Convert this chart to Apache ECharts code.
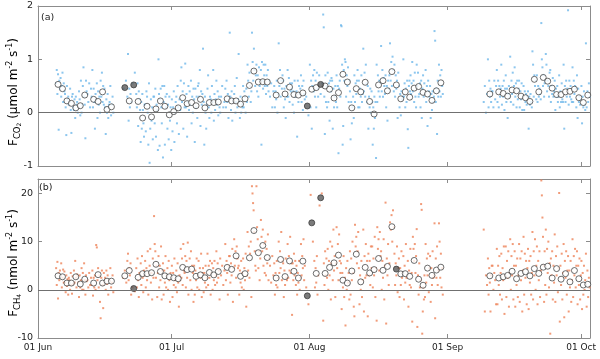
<html>
<head>
<meta charset="utf-8">
<title>CO2 and CH4 flux</title>
<script src="https://cdn.jsdelivr.net/npm/echarts@6/dist/echarts.min.js"></script>
<style>
  html, body { margin: 0; padding: 0; background: #fff; }
  #chart { width: 600px; height: 359px; }
</style>
</head>
<body>
<div id="chart"></div>
<script>
// x axis is days since 01 Jun
var monthTicks = [0, 30, 61, 92, 122];
var monthLabels = ['01 Jun', '01 Jul', '01 Aug', '01 Sep', '01 Oct'];
var co2Ticks = [-1, 0, 1, 2];
var ch4Ticks = [-10, 0, 10, 20];

// daily means (open circles)
var co2Days = [4,5,6,7,8,9,10,12,13,14,15,16,20,22,23,24,25,26,27,28,29,30,31,32,33,34,35,36,37,38,39,40,
  42,43,44,45,46,47,48,49,50,51,53,54,55,56,57,58,59,61,62,64,65,66,67,68,69,70,71,72,73,74,75,76,77,78,79,80,
  81,82,83,84,85,86,87,88,89,90,101,103,104,105,106,107,108,109,110,111,112,113,114,115,116,117,118,119,120,121,122,123];
var co2Daily = [0.53,0.45,0.22,0.175,0.09,0.13,0.33,0.25,0.21,0.39,0.06,0.11,0.22,0.21,-0.1,0.12,-0.08,0.07,0.22,0.12,-0.04,0.02,0.09,0.28,0.17,0.19,0.13,0.25,0.09,0.19,0.19,0.2,
  0.26,0.22,0.22,0.16,0.26,0.51,0.78,0.575,0.58,0.575,0.33,0.6,0.35,0.48,0.34,0.33,0.37,0.44,0.47,0.5,0.44,0.275,0.375,0.72,0.575,0.09,0.45,0.39,0.57,0.21,-0.025,0.52,0.6,0.41,0.77,0.52,
  0.26,0.39,0.29,0.46,0.49,0.38,0.35,0.23,0.41,0.56,0.35,0.39,0.36,0.31,0.425,0.41,0.31,0.28,0.21,0.625,0.39,0.66,0.59,0.46,0.34,0.34,0.39,0.4,0.44,0.28,0.19,0.33];
// daily means from gap-filled days (filled circles)
var co2FillDays = [19, 21, 60, 63];
var co2Fill = [0.47, 0.52, 0.125, 0.53];

var ch4Days = [4,5,6,7,8,9,10,12,13,14,15,16,19,20,22,23,24,25,26,27,28,29,30,31,32,33,34,35,36,37,38,39,40,
  42,43,44,45,46,47,48,49,50,51,53,54,55,56,57,58,59,62,64,65,66,67,68,69,70,71,72,73,74,75,76,77,78,79,
  81,82,83,84,85,86,87,88,89,90,101,103,104,105,106,107,108,109,110,111,112,113,114,115,116,117,118,119,120,121,122,123];
var ch4Daily = [2.9,2.7,1.4,1.4,2.7,1.2,2.2,1.4,3.15,1.4,1.8,1.8,2.9,4.0,2.6,3.35,3.35,3.55,5.3,3.8,2.9,2.7,2.5,2.3,4.65,4.2,4.3,2.8,3.1,2.5,3.6,3.1,3.8,
  4.65,4.25,7.05,2.8,3.35,6.65,12.3,7.7,9.2,6.7,2.45,6.3,2.75,6.0,3.85,2.45,5.95,3.4,3.4,4.65,5.6,7.2,2.0,1.4,3.9,7.4,1.65,4.65,3.5,4.2,6.5,4.05,4.85,13.1,
  3.3,3.35,2.8,6.1,2.2,0.95,4.5,3.0,4.1,4.7,2.9,2.45,2.7,3.0,3.85,2.3,3.4,3.75,2.9,4.4,3.4,4.7,4.9,2.45,4.4,2.2,3.35,1.65,4.0,2.3,1.0,1.15];
var ch4FillDays = [21, 60, 61, 63, 80];
var ch4Fill = [0.27, -1.25, 13.9, 19.1, 4.3];

// half-hourly fluxes, one list per day starting at day 4
var dotStart = 4;
var co2Half = [
  [0.55,0.8,0.35,0.72,-0.32,0.6,0.45],[0.65,0.3,0.5,0.75,0.2,0.55,0.4],[0.35,0.1,-0.42,0.5,0.25,0.3,0.15],
  [0.2,0.45,0.05,-0.38,0.3,0.35,0.1],[0.05,0.25,-0.1,0.3,0.15,0.2,0.0],[0.1,0.4,0.25,-0.05,0.6,0.0,0.15],
  [0.5,0.85,0.3,0.15,-0.48,0.6,0.4],[0.35,0.2,0.55,0.1,0.45],[0.3,0.8,0.1,0.45,0.2,-0.3,0.35],
  [0.25,0.55,-0.1,0.4,0.15,0.3,0.0],[0.6,0.3,0.75,0.2,0.5,0.15,0.45],[0.1,-0.4,0.25,0.0,0.35,-0.1,0.15],
  [0.2,0.5,-0.05,0.15,0.3,0.0],[],[],
  [0.45,0.6],[0.3,1.1,-0.15,0.45,0.1,0.35,0.2],[0.55,0.75],[0.35,0.1,0.55,-0.25,0.4,0.25,0.05],
  [-0.55,0.2,-0.3,0.35,0.05,-0.2,-0.45,0.15],[0.15,-0.35,0.4,0.3,0.0,-0.6,0.55],[-0.94,-0.3,0.25,-0.15,0.1,-0.5,0.3],
  [0.3,-0.2,0.45,-0.45,0.15,0.05,-0.7],[1.0,0.35,-0.62,0.25,0.45,0.1,-0.2,0.5],[-0.84,0.2,0.5,-0.6,0.3,0.1,0.35],
  [-0.3,0.15,-0.5,0.3,-0.15,0.1,-0.7],[0.25,-0.35,0.1,0.4,-0.55,0.0,0.2],[0.3,-0.2,0.5,0.1,-0.4,0.25,0.05],
  [0.6,0.85,0.2,0.4,-0.3,0.55,0.1],[0.92,0.1,0.35,-0.45,0.2,0.5,0.05],[0.4,0.15,0.6,-0.2,0.3,0.0,0.45],
  [0.25,-0.55,0.45,0.1,0.3,-0.1,0.5],[0.55,0.3,0.8,-0.25,0.4,0.15,0.35],[1.2,0.2,-0.6,0.3,0.0,-0.3,0.15],
  [0.45,0.7,0.1,-0.1,0.3,0.25,0.0],[0.5,0.2,0.8,-0.15,0.35,0.05,0.25],[0.6,0.15,0.4,-0.05,0.3,0.1,0.0],
  [0.3,0.5,0.1,0.2],[0.45,0.1,0.6,0.2,0.35,-0.1,0.3],[1.5,0.3,0.05,0.4,-0.15,0.25,0.2],
  [0.35,0.5,0.0,0.2,0.65,0.1,0.25],[1.1,0.2,-0.1,0.3,0.0,0.15,0.1],[0.5,0.1,0.4,0.3,0.0,0.45,0.2],
  [0.9,0.6,0.3,0.75,0.5,0.2,0.4],[1.5,0.95,0.6,1.2,0.8,0.5,0.7],[0.9,0.4,0.7,0.3,0.85,0.5,0.6],
  [0.8,-0.6,0.95,0.6,0.45,0.9,0.7,0.5],[0.9,0.35,0.7,0.5,0.8,0.4,0.6],[0.3,0.55,0.1,0.4],
  [0.5,0.1,0.4,0.25,0.6,0.0,0.35],[1.3,0.5,0.8,0.3,0.6,0.45,0.7],[0.6,0.1,0.45,0.25,-0.1,0.5,0.3],
  [0.8,0.3,0.65,0.2,0.55,0.4,0.45],[0.55,0.15,0.4,0.0,0.6,0.3,0.35],[0.4,-0.45,0.6,0.2,0.5,0.35,0.45],
  [0.7,0.2,0.5,0.05,0.6,0.35,0.25],[0.3,-0.05],[0.9,0.1,0.6,-0.3,0.5,0.7,0.4],
  [0.8,0.3,0.6,0.1,0.75,0.45,0.3],[0.7,0.35,0.55],[1.84,1.6,0.3,-0.4,0.7,0.2,0.5,0.1],
  [0.75,0.2,0.55,-0.15,0.6,0.4,0.65],[0.6,-0.3,0.45,0.1,0.3,0.5,0.2],[0.7,0.1,0.5,-0.76,0.45,0.6,0.3],
  [1.64,1.62,0.9,-0.6,-0.25,0.8,0.6,1.0],[0.95,0.3,0.7,0.5,0.85,0.2,0.6],[0.4,-0.5,0.2,-0.2,0.1,0.3,-0.1],
  [0.7,0.2,0.55,0.35,0.6,0.8,0.1],[0.6,0.1,0.45,0.3,0.7,0.2,0.35],[1.2,0.4,0.75,0.3,0.9,0.55,0.2],
  [0.5,-0.3,0.3,0.1,0.45,0.0,0.4],[0.2,-0.6,0.1,-0.3,0.3,-0.1,0.2,-0.85],[0.9,0.2,0.7,0.4,0.6,0.3,0.55],
  [1.25,0.4,0.8,0.3,0.65,0.5,0.35],[0.7,0.1,0.5,-0.15,0.6,0.45,0.7],[1.3,0.6,0.95,0.5,1.05,0.8,0.4],
  [0.9,0.3,0.7,0.45,0.6,-0.1,0.75],[0.5,0.1,0.35,-0.05,0.4,0.25,0.3],[1.0,0.3,0.55,0.1,0.45,0.2,0.6],
  [-0.31,-0.66,0.5,0.6,0.4,0.7,0.35,0.55],[0.95,0.4,0.6,0.2,0.75,0.3,0.1],[0.9,0.5,0.75,0.3,0.35,0.55,0.1],
  [0.6,-0.1,0.45,0.7,0.3,0.55,0.35],[0.8,0.2,0.5,-0.25,0.6,0.4,0.3],[0.5,-0.1,0.35,0.05,0.4,0.2,0.3],
  [1.53,1.35,0.2,0.45,-0.4,0.6,0.3],[0.9,0.4,0.7,0.3,0.8,0.5,0.35],
  [],[],[],[],[],[],[],[],[],
  [0.2,0.5,0.0,0.35],[1.0,0.1,0.6,0.3,0.45,0.2,0.4],[0.4,0.1,0.6,0.25,0.5],
  [0.8,0.2,0.6,0.1,0.5,0.3,0.45],[0.9,0.15,0.5,0.3,0.6,0.05,0.45],[0.7,0.2,0.45,-0.1,0.35,0.5,0.3],
  [1.05,0.2,0.6,0.35,0.75,0.15,0.5],[0.85,0.3,0.55,0.1,0.6,0.25,0.45],[0.6,0.1,0.4,0.25,0.55,0.05,0.3],
  [0.5,0.05,0.4,0.2,0.35,0.15,0.3],[0.4,-0.3,0.3,0.15,0.35,0.2,0.1],[1.15,0.9,0.3,0.7,0.5,0.6,0.25],
  [0.7,0.2,0.5,0.3,0.45,0.35,0.25],[1.68,1.0,0.85,0.5,0.7,0.3,0.55,0.6],[1.1,0.9,0.4,0.6,0.5,0.3,0.75],
  [0.8,0.2,0.5,0.35,0.65,0.3,0.4],[0.6,0.05,0.45,0.3,0.5,0.2,0.3],[0.7,0.1,0.4,0.2,0.55,0.25,0.2],
  [0.9,-0.3,0.5,0.2,0.6,0.3,0.45],[1.92,0.15,0.6,0.3,0.5,0.25,0.2],[0.85,0.2,0.6,0.35,0.5,0.45,0.1],
  [0.7,-0.1,0.45,0.2,0.3,0.15,0.25],[0.5,-0.2,0.3,0.1,0.4,0.15,0.05],[1.3,0.1,0.4,0.2,0.55,0.3]
];
var ch4Half = [
  [4.5,1.0,5.8,-1.8,3.5,2.0,4.0],[3.0,5.5,0.5,2.5,4.2,1.5,3.8],[1.5,-0.5,3.0,0.8,2.2,-1.0,2.5],
  [2.0,0.0,3.5,1.0,-0.8,2.8,1.2],[4.0,1.5,6.0,2.5,0.5,3.2,2.8],[1.5,-1.5,3.0,0.5,2.0,4.5,0.0],
  [3.5,0.0,5.5,2.0,-1.0,3.0,1.8],[2.0,0.5,3.5,1.0,2.5],[1.0,4.0,-1.2,2.5,0.5,3.0,0.0],
  [9.3,8.8,2.0,4.5,0.5,3.0,-2.5],[-5.9,2.5,4.0,1.0,-3.8,3.5,1.5],[2.5,0.0,4.0,1.2,3.0,-1.0,2.0],
  [2.0,4.5,0.5,1.5,3.0,-0.5],[],[],
  [2.5,4.0,1.5],[6.0,7.5,2.0,4.5,3.0,5.5,-1.0],[0.5,-0.3],[4.5,0.5,6.5,2.0,-1.5,3.5,2.8],
  [5.5,1.0,7.0,2.5,-0.5,4.0,3.0],[6.0,0.5,4.5,2.0,8.0,-1.0,3.5],[5.0,8.5,1.5,3.5,-2.0,6.5,2.5],
  [15.3,9.5,8.0,2.5,5.0,-1.5,3.5],[7.0,0.5,5.0,2.0,9.0,-2.0,4.0],[5.5,-1.0,4.0,1.5,7.0,0.5,3.0],
  [4.5,0.0,6.0,2.0,-2.5,3.5,2.5],[5.0,-1.5,3.5,1.0,6.5,2.0,0.5],[4.0,-0.5,5.5,1.5,-3.5,3.0,2.0],
  [8.5,2.5,6.5,1.0,9.5,4.0,3.5],[7.0,0.5,6.0,2.5,9.8,-1.0,4.5],[6.5,2.0,8.0,0.0,5.0,3.5,-2.5],
  [5.0,-1.0,4.0,2.0,6.5,0.5,3.0],[6.0,0.0,4.5,2.5,7.5,-1.5,3.5],[4.5,-0.5,3.5,1.5,5.0,0.5,2.5],
  [7.5,1.0,5.0,2.5,6.0,-1.0,3.5],[5.5,0.0,4.5,2.0,6.0,1.0,3.0],[8.0,1.5,5.5,2.5,4.0,-2.0,6.5],
  [3.0,5.0,1.0,4.0],[9.5,2.0,6.0,3.5,-1.0,5.0,7.0],[7.0,1.5,5.5,3.0,8.5,-2.5,4.5],
  [10.5,5.0,8.0,2.5,9.0,6.5,4.5],[5.0,-1.0,4.0,1.5,6.0,0.5,3.5],[6.5,0.0,4.5,2.0,7.5,-3.5,3.0],
  [12.0,4.0,9.0,2.5,7.5,10.0,-1.5],[21.5,20.0,18.0,16.5,12.0,8.0,5.0,4.0],[21.5,13.0,10.5,4.5,8.0,2.0,6.5],
  [14.5,11.0,8.0,12.5,5.0,9.5,3.5],[10.0,3.0,8.5,5.5,11.5,2.0,6.5],[5.0,1.5,7.0,3.0],
  [5.5,-1.0,3.5,1.0,6.0,0.5,2.5],[10.0,3.5,8.0,4.5,12.0,2.0,6.0],[5.5,-1.5,4.0,1.0,6.5,2.5,2.0],
  [9.5,2.5,7.0,4.0,11.0,3.5,5.5],[-5.2,5.5,2.0,7.5,3.0,6.0,1.0],[5.0,-1.0,3.5,1.5,6.0,0.0,2.5],
  [9.5,3.0,7.0,4.5,10.5,2.0,5.0],[0.5,-3.0],[19.7,10.0],
  [6.0,0.5,4.5,1.5,7.0,-1.0,3.0],[17.5,20.0],[-6.4,5.5,1.0,8.0,3.0,6.5,2.5],
  [8.5,0.0,6.0,3.0,10.0,-2.0,5.5],[9.0,2.0,12.5,4.0,7.0,-1.5,5.5],[13.0,4.5,9.5,2.0,11.5,6.0,3.5],
  [5.5,-4.0,3.5,0.5,7.0,-1.5,2.5],[-7.4,4.5,0.0,6.0,1.5,3.5,-2.0],[8.0,-1.0,6.5,2.0,10.0,3.5,-3.5],
  [-5.5,13.5,9.0,11.0,5.5,8.0,12.0],[4.5,-3.0,3.0,0.0,6.0,-1.5,2.0],[12.5,-4.5,7.0,2.5,9.5,3.0,6.0],
  [-5.5,7.5,3.0,6.0,1.0,9.0,4.5],[9.0,0.5,6.5,3.0,11.0,-1.5,4.5],[-6.4,13.0,8.5,10.5,4.0,12.0,7.0],
  [8.0,0.0,6.0,2.5,10.5,-2.0,5.0],[18.1,-7.0,6.5,3.0,9.5,1.0,5.5],[14.0,12.5,15.5,10.0,16.5,13.0],
  [7.5,1.0,5.5,3.0,9.0,-0.5,4.5],[6.5,-1.5,4.5,1.0,8.0,2.5,3.5],[7.0,-2.0,5.0,1.5,9.5,2.5,3.0],
  [6.0,-3.5,4.0,1.0,8.5,0.5,3.5],[-6.6,11.0,8.5,6.0,9.5,3.5,7.0],[12.6,-7.7,3.0,-1.0,5.5,0.5,2.0],
  [17.8,16.6,-9.1,-4.5,0.5,-2.0,3.0,-1.5],[9.5,1.5,6.5,3.0,7.5,-0.5,4.5],[7.0,-2.5,4.5,1.0,8.0,2.5,3.0],
  [13.8,-5.9,6.5,2.5,9.0,1.0,4.0],[13.8,10.0,2.5,7.5,0.5,4.5,-1.0],
  [],[],[],[],[],[],[],[],[],
  [12.5,-4.5,3.0,1.0],[6.5,-1.0,4.5,1.5,-4.5,3.0,5.0],[5.0,0.0,3.5,2.0,-3.0],
  [8.5,-3.0,5.0,1.0,7.0,-1.0,3.5],[7.5,-2.0,4.5,2.0,9.0,-5.0,3.0],[9.0,-1.5,6.0,2.5,8.0,-3.5,3.5],
  [10.5,0.0,7.0,3.0,9.5,-2.0,5.0],[8.0,-3.5,5.0,1.0,6.5,-1.5,3.0],[9.5,-2.5,6.5,2.0,8.0,-4.5,4.0],
  [11.0,-1.0,7.5,2.5,6.0,-3.0,4.5],[8.5,-4.0,6.0,1.5,7.0,-1.0,3.5],[12.0,-2.0,8.0,3.0,10.5,0.0,5.0],
  [9.0,-3.0,6.0,2.0,8.0,-1.5,4.0],[22.7,19.6,15.0,11.0,5.0,-2.5,8.0,1.0],[12.5,-1.0,8.5,3.5,10.0,0.5,5.5],
  [-9.1,6.5,3.0,8.0,-2.0,5.0,1.5],[11.5,-2.5,7.0,3.0,9.0,-0.5,4.5],[20.1,-6.6,5.0,1.0,7.5,-2.0,3.5],
  [9.5,-5.7,6.0,2.5,8.0,-1.0,4.0],[7.0,-4.5,4.0,0.5,6.0,-2.5,2.0],[10.5,-1.5,7.0,3.0,8.5,0.5,5.0],
  [8.0,-3.0,5.0,1.0,6.5,-2.0,3.0],[6.0,-4.0,3.5,-1.0,5.0,0.0,2.0],[7.5,-3.5,4.0,-1.5,2.5,0.5]
];

function dayPoints(start, perDay) {
    var out = [];
    perDay.forEach(function (vals, i) {
        vals.forEach(function (v, j) {
            out.push([start + i + (j + 0.5) / vals.length, v]);
        });
    });
    return out;
}
function meanPoints(days, vals) {
    return days.map(function (d, i) { return [d + 0.5, vals[i]]; });
}

var frame = '#8c8c8c';
var fontFam = 'DejaVu Sans';

function xAxes(grid, withLabels) {
    var base = {
        type: 'value', gridIndex: grid, min: 0, max: 124,
        splitLine: { show: false },
        axisLine: { show: true, onZero: false, lineStyle: { color: frame, width: 1 } },
        axisTick: { show: true, inside: true, length: 4, customValues: monthTicks, lineStyle: { color: frame } }
    };
    var bottom = Object.assign({}, base, {
        position: 'bottom',
        axisLabel: {
            show: withLabels, customValues: monthTicks, color: '#222', fontSize: 9, fontFamily: fontFam, margin: 5,
            formatter: function (v) { return monthLabels[monthTicks.indexOf(v)]; }
        }
    });
    var top = Object.assign({}, base, { position: 'top', axisLabel: { show: false } });
    return [bottom, top];
}
function yAxes(grid, min, max, ticks, step) {
    var base = {
        type: 'value', gridIndex: grid, min: min, max: max, interval: step,
        splitLine: { show: false },
        axisLine: { show: true, onZero: false, lineStyle: { color: frame, width: 1 } },
        axisTick: { show: true, inside: true, length: 4, customValues: ticks, lineStyle: { color: frame } }
    };
    var left = Object.assign({}, base, {
        position: 'left',
        axisLabel: { customValues: ticks, color: '#222', fontSize: 9.5, fontFamily: fontFam, margin: 5 }
    });
    var right = Object.assign({}, base, { position: 'right', axisLabel: { show: false } });
    return [left, right];
}

var zeroLine = {
    silent: true, symbol: 'none',
    lineStyle: { color: '#707070', width: 1, type: 'solid' },
    label: { show: false },
    data: [{ yAxis: 0 }]
};

function panelSeries(axisIdx, dots, dotColor, days, vals, fillDays, fillVals) {
    return [
        {
            type: 'scatter', xAxisIndex: axisIdx, yAxisIndex: axisIdx,
            symbol: 'rect', symbolSize: 2, silent: true,
            itemStyle: { color: dotColor },
            data: dots, z: 2,
            markLine: zeroLine
        },
        {
            type: 'scatter', xAxisIndex: axisIdx, yAxisIndex: axisIdx,
            symbol: 'circle', symbolSize: 6, silent: true,
            itemStyle: { color: '#ffffff', borderColor: '#333333', borderWidth: 0.9 },
            data: meanPoints(days, vals), z: 3
        },
        {
            type: 'scatter', xAxisIndex: axisIdx, yAxisIndex: axisIdx,
            symbol: 'circle', symbolSize: 6, silent: true,
            itemStyle: { color: '#5a5a5a', borderColor: '#333333', borderWidth: 0.9 },
            data: meanPoints(fillDays, fillVals), z: 4
        }
    ];
}

var chart = echarts.init(document.getElementById('chart'), null, { renderer: 'canvas' });

var titleRich = {
    m: { fontSize: 12, fontFamily: fontFam, color: '#222', lineHeight: 17, verticalAlign: 'middle' },
    s: { fontSize: 8.5, fontFamily: fontFam, color: '#222', lineHeight: 17, verticalAlign: 'bottom' },
    t: { fontSize: 6, fontFamily: fontFam, color: '#222', lineHeight: 17, verticalAlign: 'bottom' },
    p: { fontSize: 8, fontFamily: fontFam, color: '#222', lineHeight: 17, verticalAlign: 'top' }
};

chart.setOption({
    animation: false,
    backgroundColor: '#ffffff',
    grid: [
        { left: 38, top: 6, width: 552, height: 160 },
        { left: 38, top: 179, width: 552, height: 159 }
    ],
    xAxis: xAxes(0, false).concat(xAxes(1, true)),
    yAxis: yAxes(0, -1, 2, co2Ticks, 1).concat(yAxes(1, -10, 23, ch4Ticks, 10)),
    series: panelSeries(0, dayPoints(dotStart, co2Half), '#6fb8ea', co2Days, co2Daily, co2FillDays, co2Fill)
        .concat(panelSeries(2, dayPoints(dotStart, ch4Half), '#ee8257', ch4Days, ch4Daily, ch4FillDays, ch4Fill)),
    graphic: [
        {
            type: 'text', x: 14, y: 92, rotation: Math.PI / 2,
            style: {
                text: '{m|F}{s|CO}{t|2}{m| (µmol m}{p|-2}{m| s}{p|-1}{m|)}',
                rich: titleRich, align: 'center', verticalAlign: 'middle'
            }
        },
        {
            type: 'text', x: 14, y: 263, rotation: Math.PI / 2,
            style: {
                text: '{m|F}{s|CH}{t|4}{m| (nmol m}{p|-2}{m| s}{p|-1}{m|)}',
                rich: titleRich, align: 'center', verticalAlign: 'middle'
            }
        },
        {
            type: 'text', x: 41, y: 13,
            style: { text: '(a)', fontSize: 9.5, fontFamily: fontFam, fill: '#222' }
        },
        {
            type: 'text', x: 39, y: 183,
            style: { text: '(b)', fontSize: 9.5, fontFamily: fontFam, fill: '#222' }
        }
    ]
});
</script>
</body>
</html>
